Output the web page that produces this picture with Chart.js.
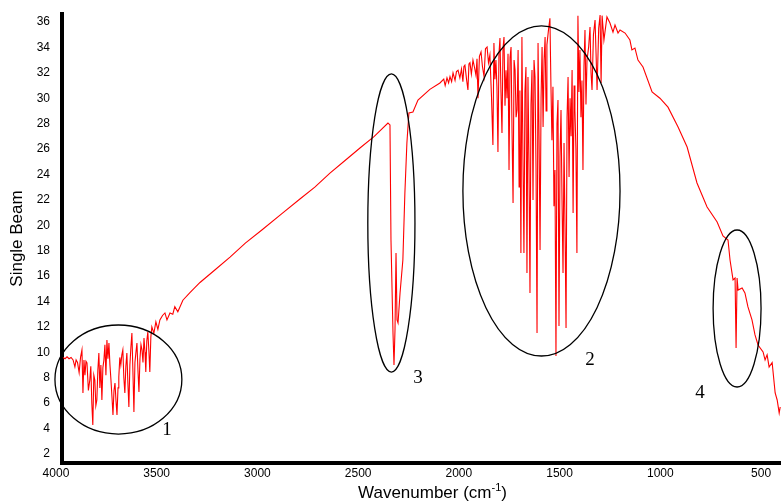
<!DOCTYPE html>
<html>
<head>
<meta charset="utf-8">
<script src="https://cdn.jsdelivr.net/npm/chart.js@4.4.1/dist/chart.umd.min.js"></script>
<style>
  html, body { margin: 0; padding: 0; background: #ffffff; }
  #wrap { width: 781px; height: 501px; }
</style>
</head>
<body>
<div id="wrap"><canvas id="myChart"></canvas></div>
<script>
// Spectrum: wavenumber (cm-1) and single beam intensity
var wavenumbers = [
  3965, 3955, 3945, 3935, 3925, 3915, 3906, 3900, 3893, 3885,
  3878, 3871, 3866, 3861, 3856, 3851, 3846, 3839, 3832, 3827,
  3822, 3817, 3812, 3807, 3802, 3797, 3792, 3787, 3782, 3777,
  3772, 3767, 3762, 3757, 3752, 3747, 3742, 3737, 3732, 3727,
  3722, 3717, 3712, 3707, 3702, 3697, 3692, 3688, 3683, 3678,
  3673, 3668, 3663, 3658, 3653, 3648, 3643, 3638, 3633, 3628,
  3623, 3618, 3613, 3608, 3603, 3598, 3593, 3588, 3583, 3578,
  3573, 3568, 3563, 3558, 3554, 3549, 3544, 3539, 3534, 3529,
  3524, 3514, 3504, 3494, 3484, 3471, 3459, 3449, 3434, 3420,
  3410, 3395, 3370, 3335, 3285, 3210, 3136, 3060, 2978, 2880,
  2789, 2715, 2640, 2565, 2491, 2420, 2352, 2342, 2337, 2327,
  2322, 2317, 2312, 2307, 2302, 2292, 2278, 2268, 2258, 2248,
  2228, 2203, 2144, 2094, 2075, 2068, 2059, 2051, 2044, 2036,
  2029, 2019, 2012, 2004, 1995, 1987, 1980, 1975, 1970, 1962,
  1955, 1950, 1945, 1938, 1930, 1922, 1915, 1910, 1905, 1898,
  1890, 1883, 1875, 1868, 1860, 1853, 1846, 1838, 1831, 1826,
  1821, 1816, 1811, 1806, 1801, 1796, 1791, 1786, 1781, 1776,
  1771, 1766, 1761, 1756, 1751, 1746, 1741, 1736, 1731, 1726,
  1721, 1716, 1711, 1706, 1701, 1697, 1692, 1687, 1682, 1677,
  1672, 1667, 1662, 1657, 1652, 1647, 1642, 1637, 1632, 1627,
  1622, 1617, 1612, 1607, 1602, 1597, 1592, 1587, 1582, 1577,
  1572, 1567, 1563, 1555, 1548, 1543, 1538, 1533, 1528, 1523,
  1518, 1513, 1508, 1503, 1498, 1493, 1488, 1483, 1478, 1473,
  1468, 1463, 1458, 1453, 1448, 1443, 1438, 1433, 1428, 1424,
  1419, 1414, 1409, 1404, 1399, 1394, 1389, 1384, 1379, 1374,
  1369, 1364, 1356, 1349, 1344, 1339, 1332, 1324, 1319, 1314,
  1306, 1299, 1294, 1289, 1280, 1265, 1250, 1235, 1225, 1210,
  1200, 1175, 1151, 1141, 1126, 1111, 1086, 1041, 1002, 962,
  912, 867, 818, 768, 718, 689, 664, 654, 639, 629,
  624, 619, 614, 594, 580, 565, 545, 530, 515, 490,
  480, 470, 460, 445, 430, 420, 410, 405
];
var singleBeam = [
  9.6, 9.5, 9.65, 9.5, 9.6, 9.4, 8.85, 9.4, 9.2, 8.4,
  9.6, 10.19, 6.8, 9.4, 8.2, 9.3, 9.16, 7.0, 7.82, 8.9,
  6.0, 4.28, 8.2, 7.82, 5.8, 6.25, 8.6, 9.95, 7.2, 9.0,
  6.25, 8.8, 9.4, 10.6, 8.2, 10.97, 9.5, 10.74, 9.0, 7.82,
  6.5, 5.07, 7.0, 7.59, 6.2, 5.07, 7.2, 8.06, 9.6, 9.0,
  9.8, 10.19, 8.0, 6.8, 8.9, 9.95, 7.6, 5.7, 9.0, 10.4,
  11.52, 8.5, 5.31, 9.2, 10.0, 10.74, 8.6, 6.88, 9.5, 10.6,
  10.19, 9.2, 11.13, 10.0, 8.45, 10.9, 11.6, 10.2, 8.45, 11.2,
  12.0, 11.5, 12.4, 11.8, 12.55, 12.9, 13.1, 12.55, 13.1, 13.0,
  13.6, 13.2, 14.1, 14.7, 15.5, 16.5, 17.5, 18.6, 19.63, 20.9,
  22.07, 23.0, 24.1, 25.1, 26.08, 27.0, 28.05, 27.9, 18.84, 11.52,
  9.0, 11.8, 17.82, 12.55, 12.31, 14.67, 17.27, 22.54, 26.48, 28.84,
  28.92, 29.86, 30.7, 31.2, 31.5, 31.0, 31.6, 31.2, 31.7, 31.3,
  32.0, 31.4, 32.1, 32.2, 31.6, 32.3, 31.3, 32.5, 32.6, 31.5,
  30.65, 32.7, 32.8, 31.9, 33.0, 32.4, 31.8, 33.1, 30.0, 33.3,
  33.64, 32.5, 31.7, 33.9, 34.03, 32.8, 33.4, 30.1, 26.32, 34.35,
  31.5, 33.0, 30.9, 25.77, 33.5, 34.74, 30.5, 27.26, 33.9, 34.82,
  29.4, 32.2, 30.0, 33.5, 24.35, 33.2, 34.03, 27.3, 21.75, 33.0,
  32.22, 28.5, 29.07, 33.8, 23.01, 30.6, 17.82, 34.82, 25.6, 17.82,
  30.5, 32.46, 16.25, 31.67, 25.0, 14.67, 29.5, 32.22, 21.99, 33.0,
  31.67, 24.5, 11.52, 34.35, 27.0, 18.06, 30.0, 34.03, 27.74, 33.0,
  34.82, 29.0, 34.2, 35.4, 36.3, 31.0, 26.7, 30.9, 21.5, 24.35,
  9.71, 28.0, 29.86, 12.07, 25.4, 29.07, 22.0, 16.25, 26.48, 19.8,
  11.92, 28.5, 31.67, 23.8, 30.0, 27.0, 32.22, 20.97, 31.0, 29.07,
  26.0, 17.82, 36.5, 30.5, 33.8, 28.5, 31.4, 24.35, 32.5, 35.37,
  29.5, 33.0, 34.0, 35.6, 32.0, 30.65, 35.0, 36.16, 33.5, 30.65,
  35.5, 36.55, 31.2, 36.5, 34.58, 36.4, 35.92, 35.2, 35.76, 35.13,
  35.37, 35.13, 34.58, 33.8, 33.95, 33.0, 32.46, 30.49, 30.0, 29.3,
  27.74, 26.16, 23.33, 21.44, 20.26, 19.16, 18.84, 17.27, 15.7, 15.85,
  10.34, 15.85, 14.9, 15.07, 14.67, 13.57, 12.55, 11.37, 10.58, 10.03,
  9.4, 9.8, 8.85, 9.2, 6.8, 6.25, 5.23, 5.7
];

var xTickValues = [500, 1000, 1500, 2000, 2500, 3000, 3500, 4000];
var yTickValues = [2, 4, 6, 8, 10, 12, 14, 16, 18, 20, 22, 24, 26, 28, 30, 32, 34, 36];

// Circled regions (data units): centre, half-width in cm-1 / half-height, and label spot
var regionNames   = ['1', '2', '3', '4'];
var regionCentres = [[3690, 7.86], [1590, 22.7], [2335, 20.18], [619, 13.45]];
var regionRadii   = [[315, 4.29], [390, 12.99], [117, 11.73], [119, 6.18]];
var regionLabels  = [[3449, 3.89], [1349, 9.4], [2203, 7.98], [803, 6.8]];

var points = [];
for (var i = 0; i < wavenumbers.length; i++) {
  points.push({ x: wavenumbers[i], y: singleBeam[i] });
}

var regionsPlugin = {
  id: 'regions',
  afterDraw: function(chart) {
    var ctx = chart.ctx;
    var xs = chart.scales.x, ys = chart.scales.y;
    ctx.save();
    ctx.strokeStyle = '#000000';
    ctx.lineWidth = 1.3;
    for (var i = 0; i < regionNames.length; i++) {
      var cx = xs.getPixelForValue(regionCentres[i][0]);
      var cy = ys.getPixelForValue(regionCentres[i][1]);
      var rx = Math.abs(xs.getPixelForValue(regionCentres[i][0] + regionRadii[i][0]) - cx);
      var ry = Math.abs(ys.getPixelForValue(regionCentres[i][1] + regionRadii[i][1]) - cy);
      ctx.beginPath();
      ctx.ellipse(cx, cy, rx, ry, 0, 0, 2 * Math.PI);
      ctx.stroke();
    }
    ctx.fillStyle = '#000000';
    ctx.font = '19px "Liberation Serif"';
    ctx.textAlign = 'center';
    ctx.textBaseline = 'middle';
    for (var j = 0; j < regionNames.length; j++) {
      ctx.fillText(regionNames[j], xs.getPixelForValue(regionLabels[j][0]), ys.getPixelForValue(regionLabels[j][1]));
    }

    // x axis title with a real superscript
    var main = 'Wavenumber (cm', sup = '-1', tail = ')';
    ctx.textAlign = 'left';
    ctx.textBaseline = 'alphabetic';
    ctx.font = '17px "Liberation Sans"';
    var w1 = ctx.measureText(main).width, w3 = ctx.measureText(tail).width;
    ctx.font = '11px "Liberation Sans"';
    var w2 = ctx.measureText(sup).width;
    var start = (chart.chartArea.left + chart.chartArea.right) / 2 + 11 - (w1 + w2 + w3) / 2;
    var base = 498;
    ctx.font = '17px "Liberation Sans"';
    ctx.fillText(main, start, base);
    ctx.font = '11px "Liberation Sans"';
    ctx.fillText(sup, start + w1, base - 7);
    ctx.font = '17px "Liberation Sans"';
    ctx.fillText(tail, start + w1 + w2, base);
    ctx.restore();
  }
};

var plainLabel = function(value) { return String(value); };

var chart = new Chart(document.getElementById('myChart'), {
  type: 'line',
  data: {
    datasets: [ {
      data: points,
      borderColor: '#ff0000',
      borderWidth: 1.1,
      fill: false,
      pointRadius: 0,
      tension: 0
    } ]
  },
  options: {
    animation: false,
    maintainAspectRatio: false,
    events: [],
    layout: {
      padding: { top: 14, left: 0, right: 0, bottom: 0 }
    },
    scales: {
      x: {
        type: 'linear',
        reverse: true,
        min: 401,
        max: 3970,
        afterBuildTicks: function(scale) {
          scale.ticks = xTickValues.map(function(v) { return { value: v }; });
        },
        afterFit: function(scale) {
          scale.height = 38;
          scale.paddingLeft = 0;
          scale.paddingRight = 0;
        },
        grid: { display: true, drawOnChartArea: false, drawTicks: false },
        border: { display: true, color: '#000000', width: 4 },
        ticks: {
          autoSkip: false,
          maxRotation: 0,
          padding: 3,
          color: '#000000',
          callback: plainLabel,
          font: { family: '"Liberation Sans"', size: 12 }
        },
        title: { display: false }
      },
      y: {
        type: 'linear',
        min: 1.29,
        max: 36.63,
        afterBuildTicks: function(scale) {
          scale.ticks = yTickValues.map(function(v) { return { value: v }; });
        },
        afterFit: function(scale) {
          scale.width = 62;
          scale.paddingTop = 0;
          scale.paddingBottom = 0;
        },
        grid: { display: true, drawOnChartArea: false, drawTicks: false },
        border: { display: true, color: '#000000', width: 4 },
        ticks: {
          padding: 12,
          color: '#000000',
          callback: plainLabel,
          font: { family: '"Liberation Sans"', size: 12 }
        },
        title: {
          display: true,
          text: 'Single Beam',
          color: '#000000',
          padding: { top: 7, bottom: 0 },
          font: { family: '"Liberation Sans"', size: 17 }
        }
      }
    },
    plugins: {
      legend: { display: false },
      tooltip: { enabled: false }
    }
  },
  plugins: [regionsPlugin]
});
</script>
</body>
</html>
